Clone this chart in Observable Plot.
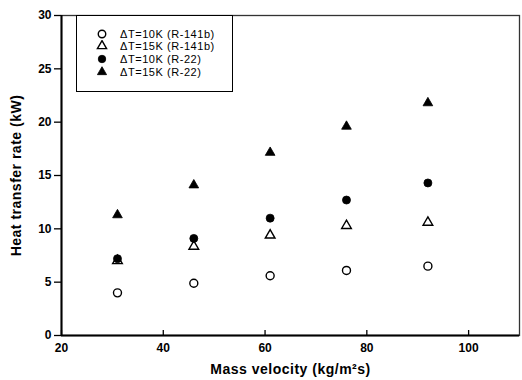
<!DOCTYPE html>
<html><head><meta charset="utf-8">
<script src="https://cdn.jsdelivr.net/npm/d3@7"></script>
<script src="https://cdn.jsdelivr.net/npm/@observablehq/plot@0.6"></script>
<style>
body{margin:0;background:#fff;font-family:"Liberation Sans",Arial,sans-serif;}
#wrap{position:relative;width:522px;height:380px;}
#legend{position:absolute;left:76px;top:15px;width:155px;height:75px;border:1.5px solid #000;background:#fff;box-sizing:content-box;}
.row{position:absolute;left:0;height:12px;line-height:12px;display:flex;align-items:center;font-size:11px;letter-spacing:0.55px;color:#000;}
.row span{line-height:12px;height:12px;display:inline-block;}
.row svg{margin-left:19px;margin-right:12px;}
</style></head>
<body><div id="wrap"></div>
<script>
const massVelocity = [31, 46, 61, 76, 92];
const r141b10K = [4.0, 4.9, 5.6, 6.1, 6.5];
const r141b15K = [7.0, 8.35, 9.4, 10.3, 10.6];
const r2210K = [7.2, 9.1, 11.0, 12.7, 14.3];
const r2215K = [11.3, 14.1, 17.15, 19.6, 21.8];
const seriesNames = ["ΔT=10K (R-141b)", "ΔT=15K (R-141b)", "ΔT=10K (R-22)", "ΔT=15K (R-22)"];
const seriesValues = [r141b10K, r141b15K, r2210K, r2215K];
const seriesSymbols = ["circle", "triangle", "circle", "triangle"];
const seriesFilled = [false, false, true, true];
const xTicks = [20, 40, 60, 80, 100];
const yTicks = [0, 5, 10, 15, 20, 25, 30];

const rows = seriesNames.flatMap((s, i) => massVelocity.map((x, j) => ({series: s, i, x, y: seriesValues[i][j]})));

const marks = [];
seriesNames.forEach((s, i) => {
  const data = rows.filter(d => d.i === i);
  marks.push(Plot.dot(data, {
    x: "x", y: "y", symbol: () => seriesSymbols[i],
    r: seriesSymbols[i] === "triangle" ? 3.6 : 4,
    fill: seriesFilled[i] ? "black" : "white",
    stroke: "black", strokeWidth: seriesFilled[i] ? 0.8 : 1.4
  }));
});

const chart = Plot.plot({
  width: 522, height: 380,
  marginLeft: 61, marginRight: 3, marginTop: 15, marginBottom: 45,
  style: {fontFamily: "'Liberation Sans', Arial, sans-serif", fontSize: "12px", color: "black", background: "white"},
  x: {domain: [20, 110]},
  y: {domain: [0, 30]},
  symbol: {type: "identity"},
  marks: [
    Plot.frame({stroke: "#333", strokeWidth: 1.3}),
    Plot.axisX({ticks: xTicks, tickSize: 0, tickPadding: 8, fontWeight: "bold", fontSize: 12,
      label: "Mass velocity (kg/m²s)", labelAnchor: "center", labelOffset: 38, labelArrow: "none"}),
    Plot.tickX(xTicks, {x: d => d, insetTop: 315, stroke: "black", strokeWidth: 1.3}),
    Plot.axisY({ticks: yTicks, tickSize: 7, tickPadding: 3, fontWeight: "bold", fontSize: 12, strokeWidth: 1.3,
      label: "Heat transfer rate (kW)", labelAnchor: "center", labelOffset: 50, labelArrow: "none"}),
    Plot.ruleY([0], {stroke: "black", strokeWidth: 2}),
    Plot.ruleX([20], {stroke: "black", strokeWidth: 2}),
    ...marks
  ]
});
chart.querySelectorAll("[aria-label$='axis label'] text, [aria-label$='axis label']").forEach(t => {
  t.setAttribute("font-weight", "bold"); t.setAttribute("font-size", "14");
  t.setAttribute("letter-spacing", "0.5");
});
const wrap = document.getElementById("wrap");
wrap.appendChild(chart);

const legend = document.createElement("div");
legend.id = "legend";
seriesNames.forEach((s, i) => {
  const row = document.createElement("div");
  row.className = "row";
  row.style.top = (11.5 + i * 12.8) + "px";
  const sz = seriesSymbols[i] === "triangle" ? Math.PI * 3.4 * 3.4 : Math.PI * 14;
  const path = d3.symbol(seriesSymbols[i] === "triangle" ? d3.symbolTriangle : d3.symbolCircle, sz)();
  row.innerHTML = `<svg width="12" height="12" viewBox="-6 -6 12 12"><path d="${path}" fill="${seriesFilled[i] ? "black" : "white"}" stroke="black" stroke-width="${seriesFilled[i] ? 0.8 : 1.4}"/></svg><span>${s}</span>`;
  legend.appendChild(row);
});
wrap.appendChild(legend);
</script></body></html>
